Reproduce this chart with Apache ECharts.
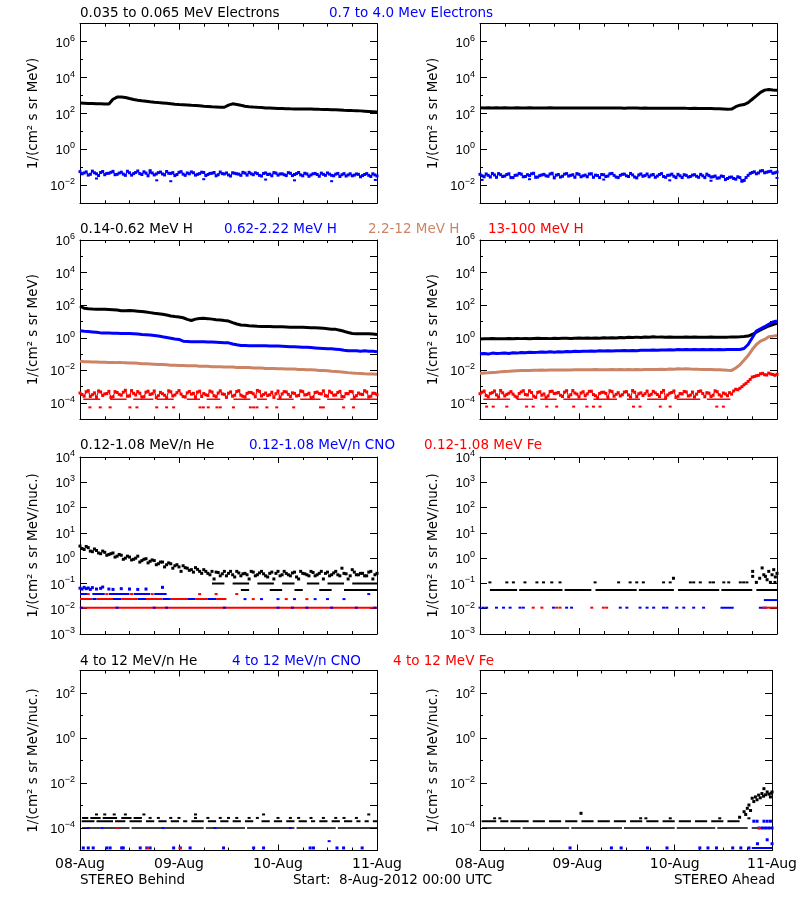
<!DOCTYPE html>
<html><head><meta charset="utf-8">
<script src="https://cdn.jsdelivr.net/npm/echarts@6/dist/echarts.min.js"></script>
<style>html,body{margin:0;padding:0;background:#fff}#c{width:800px;height:900px}</style>
</head><body><div id="c"></div><script>
// ---------- time axis (hours since 8-Aug-2012 00:00 UTC) ----------
const hours = [0,1,2,3,4,5,6,7,8,9,10,11,12,13,14,15,16,17,18,19,20,21,22,23,24,25,26,27,28,29,30,31,32,33,34,35,36,37,38,39,40,41,42,43,44,45,46,47,48,49,50,51,52,53,54,55,56,57,58,59,60,61,62,63,64,65,66,67,68,69,70,71,72];
const halfHours = [0.5,1.5,2.5,3.5,4.5,5.5,6.5,7.5,8.5,9.5,10.5,11.5,12.5,13.5,14.5,15.5,16.5,17.5,18.5,19.5,20.5,21.5,22.5,23.5,24.5,25.5,26.5,27.5,28.5,29.5,30.5,31.5,32.5,33.5,34.5,35.5,36.5,37.5,38.5,39.5,40.5,41.5,42.5,43.5,44.5,45.5,46.5,47.5,48.5,49.5,50.5,51.5,52.5,53.5,54.5,55.5,56.5,57.5,58.5,59.5,60.5,61.5,62.5,63.5,64.5,65.5,66.5,67.5,68.5,69.5,70.5,71.5];
const dayLabels = ['08-Aug','09-Aug','10-Aug','11-Aug'];

// ---------- row 1: electrons ----------
const eLowBehind = [380,370,360,355,350,345,340,335,620,820, 840,780,680,600,550,510,480,450,425,405, 390,370,350,330,315,305,295,285,280,270, 255,245,235,230,225,222,290,345,320,285, 255,240,230,222,215,205,200,195,190,188, 185,182,180,180,178,178,180,175,170,168, 165,162,160,155,150,148,145,143,140,135, 130,125,120];
const eHighBehind = [0.058,0.049,0.037,0.062,0.044,0.052,0.039,0.047,0.060,0.041, 0.054,0.036,0.050,0.045,0.063,0.040,0.048,0.055,0.038,0.051, 0.043,0.059,0.046,0.035,0.053,0.042,0.049,0.056,0.037,0.045, 0.052,0.040,0.047,0.034,0.055,0.043,0.038,0.050,0.044,0.036, 0.048,0.053,0.039,0.045,0.033,0.049,0.042,0.051,0.037,0.044, 0.035,0.047,0.040,0.052,0.034,0.043,0.038,0.046,0.032,0.041, 0.049,0.036,0.042,0.031,0.045,0.038,0.034,0.043,0.030,0.040, 0.036,0.044,0.033];
const eHighBehindHalf = [0.044,0.056,0.041,0.050,0.035,0.059,0.046,0.053,0.039,0.048, 0.042,0.061,0.037,0.052,0.045,0.057,0.034,0.049,0.043,0.055, 0.038,0.047,0.051,0.040,0.058,0.036,0.044,0.050,0.041,0.054, 0.035,0.046,0.052,0.039,0.045,0.049,0.033,0.047,0.042,0.053, 0.037,0.044,0.050,0.036,0.046,0.040,0.034,0.048,0.043,0.039, 0.051,0.035,0.045,0.038,0.047,0.032,0.044,0.040,0.048,0.036, 0.042,0.034,0.046,0.039,0.033,0.044,0.037,0.041,0.035,0.045, 0.031,0.038];
const eHighBehindOut = [[4,0.024],[18.6,0.019],[22,0.017],[17,0.07],[30,0.022],[45,0.021],[52,0.019],[61,0.017],[71.6,0.02]];
const eLowAhead = [210,205,208,204,206,203,207,205,204,206, 203,205,207,204,202,205,203,206,204,202, 204,203,205,201,203,204,202,200,203,201, 202,204,200,201,203,199,201,200,202,198, 200,199,197,199,196,198,195,196,194,195, 193,192,194,190,191,189,188,186,183,178, 170,176,240,290,316,400,620,950,1500,2000, 2150,2050,2000];
const eHighAhead = [0.041,0.030,0.036,0.046,0.028,0.039,0.033,0.044,0.027,0.037, 0.042,0.031,0.035,0.047,0.029,0.038,0.034,0.043,0.026,0.040, 0.032,0.045,0.036,0.028,0.041,0.034,0.030,0.044,0.037,0.027, 0.039,0.033,0.046,0.029,0.036,0.042,0.031,0.038,0.026,0.043, 0.035,0.030,0.040,0.033,0.045,0.028,0.037,0.032,0.041,0.027, 0.036,0.031,0.039,0.028,0.034,0.042,0.029,0.033,0.026,0.031, 0.024,0.029,0.022,0.027,0.019,0.036,0.052,0.044,0.063,0.050, 0.058,0.047,0.055];
const eHighAheadHalf = [0.034,0.043,0.029,0.038,0.045,0.031,0.040,0.027,0.036,0.046, 0.030,0.039,0.044,0.028,0.035,0.041,0.032,0.047,0.037,0.029, 0.042,0.033,0.039,0.045,0.030,0.037,0.043,0.028,0.035,0.040, 0.031,0.044,0.036,0.027,0.041,0.034,0.046,0.029,0.038,0.032, 0.043,0.037,0.028,0.040,0.031,0.036,0.042,0.027,0.034,0.039, 0.029,0.037,0.032,0.041,0.027,0.035,0.030,0.025,0.033,0.021, 0.028,0.024,0.030,0.018,0.027,0.046,0.057,0.049,0.066,0.054, 0.061,0.050];
const eHighAheadOut = [[0.5,0.02],[12,0.022],[30,0.021],[46,0.019],[56,0.018],[63.5,0.016],[64,0.018],[72,0.026]];

// ---------- row 2: protons ----------
const hBehind1 = [90,65,60,58,57,57,56,54,52,50, 46,45,47,45,43,41,38,35,32,30, 28,25,22,20,19,17,13.6,11.5,14,15.5, 15.7,15,14,13,12.4,11.5,10.7,8.5,7,6.1, 5.8,5.5,5.3,5.1,5,4.9,4.9,4.8,4.8,4.7, 4.6,4.5,4.5,4.4,4.4,4.3,4.2,4.1,4,3.8, 3.6,3.4,3.3,2.9,2.5,2.1,1.85,1.8,1.8,1.75, 1.77,1.7,1.6];
const hBehind2 = [2.7,2.5,2.4,2.3,2.2,2.0,2.0,1.95,1.9,1.9, 1.85,1.85,1.85,1.8,1.7,1.6,1.55,1.5,1.4,1.3, 1.15,1.05,0.95,0.85,0.79,0.62,0.60,0.58,0.58,0.57, 0.57,0.56,0.55,0.54,0.52,0.50,0.49,0.42,0.37,0.34, 0.34,0.33,0.33,0.32,0.32,0.32,0.31,0.31,0.31,0.30, 0.29,0.28,0.28,0.27,0.26,0.26,0.25,0.24,0.23,0.22, 0.21,0.21,0.20,0.19,0.17,0.16,0.16,0.16,0.15,0.16, 0.15,0.15,0.14];
const hBehind3 = [0.036,0.034,0.034,0.033,0.033,0.032,0.032,0.031,0.031,0.030, 0.030,0.029,0.028,0.028,0.027,0.026,0.026,0.025,0.024,0.023, 0.023,0.022,0.021,0.021,0.020,0.020,0.019,0.019,0.019,0.018, 0.018,0.018,0.017,0.017,0.017,0.016,0.016,0.016,0.015,0.015, 0.015,0.015,0.014,0.014,0.014,0.013,0.013,0.013,0.0127,0.0125, 0.012,0.012,0.012,0.0115,0.0113,0.011,0.011,0.0105,0.010,0.0098, 0.0094,0.009,0.0087,0.0082,0.0078,0.0073,0.0069,0.0066,0.0064,0.0062, 0.0061,0.006,0.0058];
const hBehind4 = [4.1e-4,2.6e-4,5.7e-4,3.2e-4,2.2e-4,4.8e-4,3.6e-4,5.2e-4,2.4e-4,4.4e-4, 3.0e-4,6.0e-4,2.7e-4,3.9e-4,5.0e-4,2.3e-4,4.6e-4,3.3e-4,5.5e-4,2.8e-4, 3.7e-4,2.1e-4,4.9e-4,3.1e-4,5.8e-4,2.5e-4,4.2e-4,3.5e-4,2.2e-4,5.3e-4, 3.8e-4,2.9e-4,4.7e-4,2.4e-4,5.6e-4,3.4e-4,4.0e-4,2.6e-4,5.1e-4,3.0e-4, 2.3e-4,4.5e-4,3.7e-4,5.9e-4,2.7e-4,4.1e-4,3.2e-4,2.2e-4,5.4e-4,3.6e-4, 4.8e-4,2.5e-4,3.9e-4,2.9e-4,5.0e-4,3.3e-4,2.1e-4,4.4e-4,3.8e-4,5.6e-4, 2.6e-4,4.3e-4,3.1e-4,5.2e-4,2.4e-4,3.7e-4,4.9e-4,2.8e-4,3.5e-4,5.7e-4, 2.3e-4,4.0e-4,3.2e-4];
const hBehind4Half = [3.3e-4,4.9e-4,2.5e-4,4.2e-4,5.5e-4,2.9e-4,3.8e-4,2.2e-4,5.0e-4,3.4e-4, 4.6e-4,2.6e-4,5.8e-4,3.1e-4,4.0e-4,2.4e-4,5.3e-4,3.7e-4,2.1e-4,4.5e-4, 3.0e-4,5.6e-4,2.7e-4,4.3e-4,3.5e-4,2.3e-4,5.1e-4,3.9e-4,4.7e-4,2.5e-4, 3.2e-4,5.4e-4,2.8e-4,4.1e-4,3.6e-4,2.2e-4,4.8e-4,3.0e-4,5.7e-4,2.6e-4, 3.9e-4,4.4e-4,2.4e-4,5.2e-4,3.3e-4,2.9e-4,4.6e-4,3.7e-4,2.1e-4,5.0e-4, 3.4e-4,4.2e-4,2.7e-4,5.5e-4,3.1e-4,4.0e-4,2.3e-4,4.7e-4,3.6e-4,2.8e-4, 5.3e-4,3.0e-4,4.4e-4,2.5e-4,3.8e-4,5.1e-4,2.2e-4,4.1e-4,3.3e-4,4.8e-4, 2.6e-4,3.9e-4];
const hBehind4LowSegs = [[0.8,4.9],[7.3,11.3],[12.9,17.8],[18.6,22.7],[25.9,29.1],[30.7,34],[37.2,41.3],[42.9,45.3],[47.7,51.8],[53.4,58.3],[59.9,63.9],[65.5,72]];
const hBehind4LowerTimes = [2.4,4.9,7.3,12.1,13.8,18.6,21,22.7,29.1,29.9,31.1,33.2,34,37.2,41.3,42.1,42.9,45.3,47.7,51.8,58.3,59,63.9,66.3];
const hAhead1 = [0.85,0.88,0.86,0.90,0.87,0.89,0.88,0.91,0.87,0.90, 0.89,0.92,0.88,0.91,0.93,0.90,0.92,0.89,0.94,0.91, 0.93,0.95,0.92,0.94,0.96,0.93,0.97,0.95,0.98,0.94, 1.0,0.97,1.02,0.98,1.05,1.0,1.08,1.04,1.1,1.06, 1.12,1.08,1.15,1.1,1.13,1.09,1.12,1.08,1.1,1.07, 1.11,1.08,1.12,1.09,1.1,1.07,1.11,1.08,1.1,1.09, 1.1,1.12,1.11,1.15,1.2,1.27,1.6,2.2,3.0,4.0, 5.3,6.5,7.7];
const hAhead2 = [0.105,0.11,0.10,0.115,0.108,0.112,0.118,0.11,0.12,0.115, 0.125,0.12,0.13,0.124,0.128,0.135,0.13,0.138,0.132,0.14, 0.136,0.145,0.14,0.15,0.145,0.152,0.148,0.155,0.15,0.158, 0.154,0.16,0.156,0.162,0.158,0.165,0.16,0.168,0.163,0.17, 0.175,0.17,0.178,0.172,0.18,0.176,0.185,0.18,0.19,0.184, 0.19,0.186,0.192,0.188,0.19,0.185,0.193,0.188,0.19,0.186, 0.19,0.192,0.19,0.19,0.22,0.39,1.0,2.6,3.6,4.8, 6.7,9.3,10.7];
const hAhead3 = [0.0065,0.0070,0.0072,0.0075,0.0078,0.0082,0.0087,0.0089,0.0092,0.0095, 0.0097,0.0098,0.010,0.0102,0.0101,0.0104,0.0103,0.0105,0.0104,0.0106, 0.0105,0.0107,0.0106,0.0108,0.011,0.0108,0.0111,0.0109,0.0112,0.011, 0.0111,0.0109,0.0112,0.011,0.0113,0.0111,0.0112,0.011,0.0113,0.0111, 0.0114,0.0112,0.0115,0.0113,0.0116,0.0114,0.012,0.0118,0.0125,0.0122, 0.0127,0.012,0.0118,0.0116,0.0115,0.0113,0.0112,0.011,0.0108,0.0105, 0.0102,0.01,0.014,0.022,0.042,0.081,0.19,0.39,0.62,0.79, 1.15,1.27,1.4];
const hAhead4 = [3.7e-4,5.4e-4,2.4e-4,4.3e-4,3.1e-4,5.9e-4,2.7e-4,4.0e-4,3.5e-4,2.2e-4, 4.8e-4,3.3e-4,5.6e-4,2.6e-4,4.5e-4,3.0e-4,2.1e-4,5.1e-4,3.8e-4,4.4e-4, 2.5e-4,5.7e-4,3.2e-4,4.1e-4,2.3e-4,4.9e-4,3.6e-4,5.3e-4,2.8e-4,3.9e-4, 4.6e-4,2.2e-4,5.0e-4,3.4e-4,2.7e-4,4.7e-4,3.1e-4,5.8e-4,2.4e-4,4.2e-4, 3.7e-4,2.9e-4,5.2e-4,3.3e-4,4.5e-4,2.1e-4,4.0e-4,5.5e-4,2.6e-4,3.6e-4, 4.8e-4,3.0e-4,2.3e-4,5.1e-4,3.8e-4,4.3e-4,2.5e-4,5.6e-4,3.2e-4,4.1e-4, 2.8e-4,3.5e-4, 7.0e-4,8.0e-4,1.3e-3,2.1e-3,3.9e-3,4.7e-3,6.2e-3,5.4e-3, 6.8e-3,5.6e-3,5.8e-3];
const hAhead4Half = [4.6e-4,2.9e-4,3.9e-4,5.5e-4,2.3e-4,4.2e-4,3.4e-4,5.0e-4,2.6e-4,3.8e-4, 5.7e-4,3.1e-4,4.4e-4,2.2e-4,4.9e-4,3.6e-4,2.7e-4,5.3e-4,4.0e-4,3.0e-4, 4.7e-4,2.4e-4,5.8e-4,3.5e-4,4.1e-4,2.8e-4,5.2e-4,3.3e-4,2.1e-4,4.5e-4, 3.9e-4,5.6e-4,2.6e-4,4.3e-4,3.2e-4,5.0e-4,2.3e-4,4.6e-4,3.7e-4,2.9e-4, 5.4e-4,3.4e-4,4.2e-4,2.5e-4,5.9e-4,3.1e-4,4.4e-4,2.2e-4,3.8e-4,5.1e-4, 2.7e-4,4.7e-4,3.5e-4,5.5e-4,2.4e-4,4.0e-4,3.0e-4,4.9e-4,2.6e-4,3.6e-4, 4.3e-4, 5.5e-4,6.5e-4,1.0e-3,1.6e-3,2.8e-3,4.2e-3,5.0e-3,6.6e-3,5.2e-3,6.0e-3,5.0e-3];
const hAhead4LowSegs = [[0.8,7.3],[8.9,12.9],[14.6,18.6],[20.2,25.9],[27.5,33.2],[35.6,38.8],[40.5,45.3],[47.7,53.4],[55,60.7]];
const hAhead4LowerTimes = [1.6,3.2,6.5,11.3,12.9,16.2,18.6,22.7,25.9,27.5,29.1,37.2,38.8,43.7,46.1,57.4,59];

// ---------- row 3: 0.12-1.08 MeV/n ions ----------
const heLowBehindA = [3.0,2.2,2.6,1.8,2.0,1.5,1.7,1.4,1.6,1.2, 1.3,1.0,1.1,0.9,1.2,0.8,0.95,0.75,0.8,0.6, 0.7,0.55,0.6,0.5,0.45,0.5,0.4,0.35,0.42,0.3, 0.35,0.25,0.3,0.28,0.2,0.3,0.25,0.22,0.3,0.2, 0.25,0.15,0.28,0.22,0.3,0.2,0.25,0.15,0.3,0.22, 0.25,0.2,0.28,0.15,0.25,0.22,0.3,0.2,0.25,0.15, 0.28,0.22,0.3,0.2,0.25,0.15,0.35,0.22,0.25,0.2, 0.28,0.15,0.25];
const heLowBehindB = [2.4,2.9,1.9,2.3,1.6,1.9,1.3,1.5,1.1,1.4, 0.9,1.2,0.85,1.0,0.7,0.9,0.65,0.85,0.55,0.7, 0.45,0.65,0.4,0.55,0.3,0.42,0.33,0.28,0.36,0.25, 0.3,0.22,0.15,0.27,0.24,0.2,0.3,0.18,0.26,0.24, 0.22,0.3,0.2,0.26,0.24,0.18,0.28,0.25,0.2,0.3, 0.22,0.26,0.18,0.3,0.24,0.2,0.27,0.22,0.3,0.25, 0.2,0.26,0.22,0.4,0.24,0.2,0.28,0.22,0.25,0.2, 0.3,0.22];
const heLowBehind010Segs = [[32,35],[37,41],[43,47],[49,52],[55,58],[60,64],[66,72]];
const heLowBehind055Segs = [[39,41],[46,49],[52,54],[58,61],[64,72]];
const cnoLowBehindHigh = [[0,0.065],[0.5,0.06],[1,0.07],[1.5,0.062],[2,0.066],[2.5,0.058],[3,0.068],[4,0.06],[5,0.064],[5.5,0.072],[7,0.06],[8,0.058],[10,0.062],[12,0.06],[14,0.058],[16,0.06],[20,0.07]];
const cnoLowBehind038Segs = [[0,2],[3,6],[7,12],[13,17],[18,21]];
const cnoLowBehind038Times = [70];
const feLowBehind038Times = [2,6.5,12.5,17.5,29,33,38];
const feLowBehind024Segs = [[0,3],[4,8],[10,14],[16,20],[22,26],[28,31],[33,35.5]];
const cnoLowBehind024Segs = [[3,4],[8,10],[14,16],[20,22],[26,28],[31,33]];
const cnoLowBehind024Times = [40,44,48,52,57,60,64];
const feLowBehind024Times = [42,50,55];
const feLowBehind011Segs = [[0,72]];
const cnoLowBehind011Times = [0.3,9,18,21,35,48,51.5,55,61,67,71.5];

const heLowAhead055Segs = [[2.4,9],[9.5,20],[20.5,27],[28,38],[38.5,47],[48,58],[58.5,66],[67,72]];
const heLowAhead011Times = [2.4,6.5,8.1,10.9,13.8,15.4,17.4,19.4,27.9,33.6,36.4,38,39.6,44.5,46.1,51,51.8,53.4,55.8,56.6,59.1,60.3,63.1,63.9,64.7];
const heLowAheadOther = [[46.9,0.16],[66.1,0.3],[66.1,0.19],[67,0.11],[68.4,0.41],[68.8,0.22],[69.2,0.19],[70,0.3],[70.8,0.22],[71.2,0.35],[71.6,0.18],[72,0.25],[67.8,0.16],[69.6,0.14],[70.4,0.11],[71.5,0.11]];
const cnoLowAhead011Times = [0,0.8,1.6,4,5.7,7.3,9.7,10.5,17.8,21,22.2,34,35.6,38.8,40.5,42.1,44.5,45.3,47.7,49.4,51.8,54.2];
const cnoLowAhead011Segs = [[58.3,61.5],[67.6,69.6]];
const cnoLowAhead022Segs = [[68.8,72]];
const feLowAhead011Times = [12.9,15,18.6,19.4,27.1,29.9,30.7];
const feLowAhead011Segs = [[68.4,72]];

// ---------- row 4: 4-12 MeV/n ions ----------
const heHiBehind1e4Segs = [[0.5,5],[5.5,12],[12.5,20],[20.5,30],[30.5,40],[40.5,52],[52.5,62],[62.5,72]];
const heHiBehind2e4Segs = [[0.4,3.5],[4,8],[8.5,11],[12,15],[16,18],[19,21],[22,24],[25,26],[27,30],[31,33],[34,36],[37,39],[40,42],[44,46],[47,49],[50,52],[53,55],[56,57],[58,60],[61,63],[64,66],[67,68],[69,70],[71,72]];
const heHiBehind28Segs = [[0.5,2],[2.5,5],[5.5,9],[10,12.5],[13,15]];
const heHiBehind28Times = [17,19,22,24,28,31,34,36,38,41,43,48,51,53,56,59,62,64,67];
const heHiBehind4e4Times = [4,6,8.3,11,15.5,28,44.5,70];
const cnoHiBehindLowTimes = [0.8,2,3.2,6.5,7.3,10.1,10.5,14.6,16.2,17,22.7,24.3,26.7,34.8,42.1,44.5,55.8,56.6,62.3,63.9,68.4];
const cnoHiBehindOther = [[60.4,2.6e-5],[2,1e-4],[5.3,1e-4],[20.2,1e-4],[32.7,1e-4],[51,1e-4]];
const feHiBehind = [[9,1e-4],[24.3,1.3e-5],[16.5,1.3e-5]];

const heHiAhead1e4Segs = [[0.5,10],[10.5,22],[22.5,35],[35.5,48],[48.5,58],[58.5,66],[67,72]];
const heHiAhead2e4Segs = [[0.4,4],[5,7],[7.5,12],[13,16],[17,20],[21,24],[25,28],[29,32],[33,36],[37,40],[41,44],[45,48],[49,52],[53,56],[57,60],[61,64]];
const heHiAhead27Times = [3.6,4.9,39.6,40.9,46.9,59.1,66.3];
const heHiAheadOther = [[24.9,4.5e-4],[64,3e-4],[65.1,5.3e-4],[65.5,4e-4],[65.9,7.5e-4],[66.3,1.05e-3],[66.7,6e-4],[67.1,2.1e-3],[67.5,1.5e-3],[67.9,2.4e-3],[68.3,1.8e-3],[68.7,2.9e-3],[69.1,2.2e-3],[69.5,3.4e-3],[69.9,2.6e-3],[70,5.6e-3],[70.4,3e-3],[70.8,4e-3],[71.2,3.2e-3],[71.6,2.4e-3],[71.8,3.5e-3],[72,4e-3]];
const cnoHiAheadLowTimes = [22.2,32.4,34.8,41.3,46.1,54.2,56.2,58.3,62.3,64.3,66.3];
const cnoHiAheadLowSegs = [[67,72]];
const cnoHiAheadOther = [[67.5,2e-4],[68.3,2e-4],[70,2e-4],[70.8,2e-4],[71.6,2e-4],[68.8,1e-4],[69.6,1e-4],[70.4,1e-4],[71.2,1e-4],[72,1e-4],[70.8,3e-5],[68.4,2e-5],[72,2e-5]];
const feHiAhead = [[68.8,1e-4]];

// ---------- texts ----------
const panelTitles = [
  [['0.035 to 0.065 MeV Electrons','#000000',80],['0.7 to 4.0 Mev Electrons','#0000ff',329]],
  [['0.14-0.62 MeV H','#000000',80],['0.62-2.22 MeV H','#0000ff',224],['2.2-12 MeV H','#cc8466',368],['13-100 MeV H','#ff0000',488]],
  [['0.12-1.08 MeV/n He','#000000',80],['0.12-1.08 MeV/n CNO','#0000ff',249],['0.12-1.08 MeV Fe','#ff0000',424]],
  [['4 to 12 MeV/n He','#000000',80],['4 to 12 MeV/n CNO','#0000ff',232],['4 to 12 MeV Fe','#ff0000',393]]
];
const yNames = ['1/(cm\u00b2 s sr MeV)','1/(cm\u00b2 s sr MeV)','1/(cm\u00b2 s sr MeV/nuc.)','1/(cm\u00b2 s sr MeV/nuc.)'];
const yMinExp = [-3,-5,-3,-5];
const yMaxExp = [7,6,4,3];
const yLabelExps = [[-2,0,2,4,6],[-4,-2,0,2,4,6],[-3,-2,-1,0,1,2,3,4],[-4,-2,0,2]];

// ---------- layout ----------
const K='#000000', B='#0000ff', N='#cc8466', R='#ff0000';
const FONT = 'DejaVu Sans';
const rowTop = [23.7, 240, 457, 670.5];
const rowH = [179.6, 179.3, 177, 180];
const titleTop = [5.5, 221.5, 437, 653.5];

function pairs(xs, ys){ return xs.map((x,i)=>[x, ys[i]]); }
function merged(xa, ya, xb, yb){ return pairs(xa, ya).concat(pairs(xb, yb)).sort((a,b)=>a[0]-b[0]); }
function segs(level, list){ const d=[]; list.forEach(s=>{ d.push([s[0],level],[s[1],level],[s[1],null]); }); return d; }
function dots(level, times){ return times.map(t=>[t, level]); }
function pow10(e){ return Math.pow(10, e); }
function decades(a,b){ const r=[]; for(let e=a;e<=b;e++) r.push(pow10(e)); return r; }

const grids=[], xAxes=[], yAxes=[], series=[], titles=[];
function lineS(p, data, color, width, z){
  series.push({type:'line', xAxisIndex:2*p, yAxisIndex:3*p, data, symbol:'none', showSymbol:false,
    lineStyle:{color, width, opacity:1}, itemStyle:{color}, animation:false, silent:true, z: z||2, connectNulls:false});
}
function dotS(p, data, color, size, z){
  series.push({type:'scatter', xAxisIndex:2*p, yAxisIndex:3*p, data, symbol:'rect', symbolSize:size||[3,3],
    itemStyle:{color, opacity:1}, animation:false, silent:true, z: z||3});
}
function bandS(p, data, color){ lineS(p, data, color, 1.2); dotS(p, data, color, [3,3]); }

for (let p=0;p<8;p++){
  const r=Math.floor(p/2), c=p%2;
  grids.push({left: c?480:80, top: rowTop[r], width: 297, height: rowH[r], containLabel:false});
  const axLine = {show:true, lineStyle:{color:'#000', width:1}};
  xAxes.push({type:'value', gridIndex:p, position:'bottom', min:0, max:72, interval:24,
    axisLine:axLine, axisTick:{show:true, inside:true, length:6, lineStyle:{color:'#000'}},
    minorTick:{show:true, splitNumber:4, length:3, lineStyle:{color:'#000'}},
    splitLine:{show:false}, minorSplitLine:{show:false},
    axisLabel:{show: r===3, margin:7, color:'#000', fontFamily:FONT, fontSize:14, showMinLabel:true, showMaxLabel:true,
      formatter: v => dayLabels[Math.round(v/24)]}});
  xAxes.push({type:'value', gridIndex:p, position:'top', min:0, max:72, interval:24,
    axisLine:axLine, axisTick:{show:true, inside:true, length:6, lineStyle:{color:'#000'}},
    minorTick:{show:true, splitNumber:4, length:3, lineStyle:{color:'#000'}},
    splitLine:{show:false}, minorSplitLine:{show:false}, axisLabel:{show:false}});
  const mn = pow10(yMinExp[r]), mx = pow10(yMaxExp[r]);
  const labVals = yLabelExps[r].map(pow10);
  yAxes.push({type:'log', logBase:10, gridIndex:p, position:'left', min:mn, max:mx,
    axisLine:axLine, splitLine:{show:false},
    axisTick:{show:true, inside:true, length:7, customValues: labVals, lineStyle:{color:'#000'}},
    axisLabel:{show:true, customValues: labVals, margin:5, color:'#000',
      formatter: v => { const e=Math.round(Math.log10(v)); return '{b|10}{s|'+(e<0?'\u2212'+(-e):e)+'}'; },
      rich:{ b:{fontFamily:'Liberation Sans', fontSize:13, color:'#000', verticalAlign:'bottom', lineHeight:16},
             s:{fontFamily:'Liberation Sans', fontSize:9, color:'#000', verticalAlign:'top', lineHeight:16} }},
    name: yNames[r], nameLocation:'middle', nameGap:40, nameRotate:90,
    nameTextStyle:{fontFamily:FONT, fontSize:13.5, color:'#000'}});
  yAxes.push({type:'log', logBase:10, gridIndex:p, position:'left', min:mn, max:mx,
    axisLine:{show:false}, splitLine:{show:false},
    axisTick:{show:true, inside:true, length:3, customValues: decades(yMinExp[r], yMaxExp[r]), lineStyle:{color:'#000'}},
    axisLabel:{show:false}});
  yAxes.push({type:'log', logBase:10, gridIndex:p, position:'right', min:mn, max:mx,
    axisLine:axLine, splitLine:{show:false},
    axisTick:{show:true, inside:true, length:7, customValues: decades(yMinExp[r], yMaxExp[r]), lineStyle:{color:'#000'}},
    axisLabel:{show:false}});
}

panelTitles.forEach((row, r)=>{
  row.forEach(t=>{ titles.push({text:t[0], left:t[2], top:titleTop[r], padding:0,
    textStyle:{color:t[1], fontFamily:FONT, fontSize:13.5, fontWeight:'normal', lineHeight:16}}); });
});
titles.push({text:'STEREO Behind', left:80, top:872.5, padding:0, textStyle:{color:K, fontFamily:FONT, fontSize:13.5, fontWeight:'normal', lineHeight:16}});
titles.push({text:'Start:  8-Aug-2012 00:00 UTC', left:293, top:872.5, padding:0, textStyle:{color:K, fontFamily:FONT, fontSize:13.5, fontWeight:'normal', lineHeight:16}});
titles.push({text:'STEREO Ahead', right:25, top:872.5, padding:0, textStyle:{color:K, fontFamily:FONT, fontSize:13.5, fontWeight:'normal', lineHeight:16}});

// panel 0: electrons behind
lineS(0, pairs(hours, eLowBehind), K, 3);
bandS(0, merged(hours, eHighBehind, halfHours, eHighBehindHalf), B);
dotS(0, eHighBehindOut, B, [3,2]);
// panel 1: electrons ahead
lineS(1, pairs(hours, eLowAhead), K, 3);
bandS(1, merged(hours, eHighAhead, halfHours, eHighAheadHalf), B);
dotS(1, eHighAheadOut, B, [3,2]);
// panel 2: protons behind
lineS(2, pairs(hours, hBehind1), K, 3);
lineS(2, pairs(hours, hBehind2), B, 3);
lineS(2, pairs(hours, hBehind3), N, 3);
bandS(2, merged(hours, hBehind4, halfHours, hBehind4Half), R);
lineS(2, segs(1.7e-4, hBehind4LowSegs), R, 1.5);
dotS(2, dots(5.4e-5, hBehind4LowerTimes), R, [3,2]);
// panel 3: protons ahead
bandS(3, merged(hours, hAhead4, halfHours, hAhead4Half), R);
lineS(3, segs(1.7e-4, hAhead4LowSegs), R, 1.5);
dotS(3, dots(6e-5, hAhead4LowerTimes), R, [3,2]);
lineS(3, pairs(hours, hAhead3), N, 3);
lineS(3, pairs(hours, hAhead1), K, 3);
lineS(3, pairs(hours, hAhead2), B, 3);
// panel 4: low-energy ions behind
lineS(4, segs(0.011, feLowBehind011Segs), R, 2);
dotS(4, dots(0.011, cnoLowBehind011Times), B, [3,2]);
lineS(4, segs(0.024, feLowBehind024Segs), R, 2);
lineS(4, segs(0.024, cnoLowBehind024Segs), B, 2);
dotS(4, dots(0.024, cnoLowBehind024Times), B, [3,2]);
dotS(4, dots(0.024, feLowBehind024Times), R, [3,2]);
lineS(4, segs(0.038, cnoLowBehind038Segs), B, 2);
dotS(4, dots(0.038, cnoLowBehind038Times), B, [3,2]);
dotS(4, dots(0.038, feLowBehind038Times), R, [3,2]);
dotS(4, cnoLowBehindHigh, B, [3,3]);
lineS(4, segs(0.1, heLowBehind010Segs), K, 2);
lineS(4, segs(0.055, heLowBehind055Segs), K, 2);
dotS(4, pairs(hours, heLowBehindA), K, [3,3]);
dotS(4, pairs(halfHours, heLowBehindB), K, [3,3]);
// panel 5: low-energy ions ahead
lineS(5, segs(0.055, heLowAhead055Segs), K, 2);
dotS(5, dots(0.11, heLowAhead011Times), K, [3,2]);
dotS(5, heLowAheadOther, K, [3,3]);
dotS(5, dots(0.011, cnoLowAhead011Times), B, [3,2]);
lineS(5, segs(0.011, cnoLowAhead011Segs), B, 2);
lineS(5, segs(0.022, cnoLowAhead022Segs), B, 2);
dotS(5, dots(0.011, feLowAhead011Times), R, [3,2]);
lineS(5, segs(0.011, feLowAhead011Segs), R, 2);
// panel 6: 4-12 MeV ions behind
lineS(6, segs(1e-4, heHiBehind1e4Segs), K, 1.5);
lineS(6, segs(2e-4, heHiBehind2e4Segs), K, 2);
lineS(6, segs(2.8e-4, heHiBehind28Segs), K, 2);
dotS(6, dots(2.8e-4, heHiBehind28Times), K, [3,2]);
dotS(6, dots(4e-4, heHiBehind4e4Times), K, [3,2]);
dotS(6, dots(1.3e-5, cnoHiBehindLowTimes), B, [3,3]);
dotS(6, cnoHiBehindOther, B, [3,2]);
dotS(6, feHiBehind, R, [3,2]);
// panel 7: 4-12 MeV ions ahead
lineS(7, segs(1e-4, heHiAhead1e4Segs), K, 1.5);
lineS(7, segs(2e-4, heHiAhead2e4Segs), K, 2);
dotS(7, dots(2.7e-4, heHiAhead27Times), K, [3,2]);
dotS(7, heHiAheadOther, K, [3,3]);
dotS(7, dots(1.3e-5, cnoHiAheadLowTimes), B, [3,3]);
lineS(7, segs(1.3e-5, cnoHiAheadLowSegs), B, 2);
dotS(7, cnoHiAheadOther, B, [3,3]);
dotS(7, feHiAhead, R, [3,2]);

const chart = echarts.init(document.getElementById('c'), null, {renderer:'canvas'});
chart.setOption({backgroundColor:'#ffffff', animation:false, title:titles, grid:grids, xAxis:xAxes, yAxis:yAxes, series});
</script></body></html>
